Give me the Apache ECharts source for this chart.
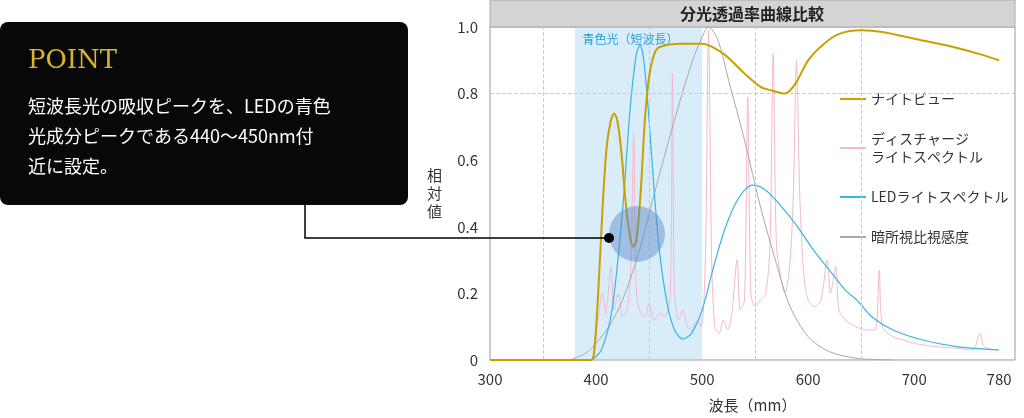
<!DOCTYPE html>
<html><head><meta charset="utf-8">
<script src="https://cdn.jsdelivr.net/npm/echarts@6/dist/echarts.min.js"></script>
<style>html,body{margin:0;padding:0;background:#fff}#c{width:1024px;height:418px}</style>
</head><body><div id="c"></div>
<script>
// ナイトビュー transmission
const nightView = [[300,0],[395,0],[398,0.02],[402,0.2],[406,0.45],[410,0.64],[414,0.72],[417,0.74],[420,0.72],[424,0.62],[428,0.47],[432,0.37],[435,0.34],[438,0.36],[442,0.5],[446,0.72],[450,0.85],[455,0.92],[460,0.94],[480,0.95],[500,0.95],[520,0.92],[540,0.86],[555,0.82],[565,0.81],[578,0.8],[588,0.83],[600,0.9],[615,0.95],[630,0.98],[650,0.99],[670,0.985],[700,0.965],[730,0.945],[760,0.92],[780,0.9]];
// ディスチャージライトスペクトル
const discharge = [[398,0],[402,0.12],[406,0.2],[409,0.14],[414,0.28],[417,0.15],[421,0.2],[425,0.13],[430,0.16],[433,0.3],[435.5,0.68],[438,0.2],[442,0.14],[446,0.13],[450,0.17],[455,0.12],[460,0.14],[465,0.13],[470,0.2],[472,0.86],[474,0.2],[478,0.12],[482,0.15],[486,0.1],[490,0.09],[495,0.12],[499,0.1],[503,0.3],[506,0.99],[509,0.3],[512,0.1],[516,0.08],[520,0.12],[524,0.09],[528,0.14],[533,0.3],[536,0.15],[540,0.18],[543,0.79],[546,0.2],[550,0.16],[555,0.18],[560,0.2],[564,0.35],[567,0.92],[570,0.35],[574,0.25],[578,0.2],[583,0.3],[586,0.5],[589,0.9],[592,0.5],[596,0.25],[600,0.18],[606,0.16],[612,0.18],[618,0.3],[621,0.2],[626,0.28],[629,0.15],[635,0.12],[645,0.1],[655,0.09],[663,0.09],[667,0.27],[670,0.1],[680,0.07],[690,0.06],[700,0.05],[720,0.04],[740,0.035],[755,0.03],[762,0.08],[766,0.04],[780,0.03]];
// LEDライトスペクトル
const led = [[396,0],[405,0.03],[415,0.15],[425,0.45],[432,0.75],[438,0.92],[441.5,0.945],[445,0.9],[450,0.72],[455,0.5],[460,0.32],[467,0.17],[474,0.09],[482,0.063],[490,0.08],[500,0.15],[510,0.27],[520,0.38],[530,0.46],[540,0.51],[548,0.525],[560,0.51],[575,0.46],[590,0.4],[605,0.33],[620,0.27],[635,0.21],[646,0.18],[660,0.13],[680,0.09],[708,0.06],[740,0.04],[780,0.03]];
// 暗所視比視感度
const scotopic = [[375,0],[390,0.02],[400,0.05],[412,0.1],[425,0.18],[440,0.32],[455,0.5],[473,0.71],[490,0.89],[500,0.97],[506,1.0],[515,0.96],[525,0.84],[540,0.66],[555,0.46],[570,0.29],[583,0.16],[600,0.07],[620,0.025],[646,0.005],[680,0]];
const baseline = [[300,0],[396,0]];
const xTicks = [300,400,500,600,700,780];
const yTicks = [0,0.2,0.4,0.6,0.8,1.0];

const chart = echarts.init(document.getElementById('c'));
const font = 'Noto Sans CJK JP';
const ln = (name, data, color, w, z) => ({name, type:'line', data, symbol:'none', smooth:0.3, z, lineStyle:{color, width:w}, itemStyle:{color}});

chart.setOption({
  animation:false,
  textStyle:{fontFamily:font},
  grid:{left:490, right:9, top:27, bottom:57, show:true, borderColor:'#999', borderWidth:1},
  xAxis:{type:'value', min:300, max:795,
    axisLine:{show:false}, axisTick:{show:false}, splitLine:{show:false},
    axisLabel:{customValues:xTicks, color:'#333', fontSize:15, margin:12},
    name:'波長（mm）', nameLocation:'middle', nameGap:38, nameTextStyle:{fontSize:15, color:'#333'}},
  yAxis:{type:'value', min:0, max:1.0, interval:0.2, axisLine:{show:false}, axisTick:{show:false},
    splitLine:{show:false},
    axisLabel:{color:'#333', fontSize:15, margin:12, formatter:v=>v===0?'0':v.toFixed(1)},
    name:'相\n対\n値', nameLocation:'middle', nameGap:48, nameRotate:0, nameTextStyle:{fontSize:15, color:'#333', lineHeight:18}},
  legend:{orient:'vertical', left:835, top:85, itemGap:22, itemWidth:26, itemHeight:2,
    icon:'rect', textStyle:{fontSize:14, color:'#333', lineHeight:18},
    data:['ナイトビュー','ディスチャージ\nライトスペクトル','LEDライトスペクトル','暗所視比視感度']},
  series:[
    {type:'line', data:[], silent:true,
      markArea:{silent:true, itemStyle:{color:'rgba(170,215,240,0.45)'},
        label:{show:true, position:'insideTop', distance:6, color:'#2a9fd8', fontSize:12, offset:[-8,0]},
        data:[[{xAxis:380, name:'青色光（短波長）'},{xAxis:500}]]},
      markLine:{silent:true, symbol:'none', label:{show:false}, lineStyle:{color:'#ccc', type:'dashed', width:1},
        data:[{xAxis:350},{xAxis:450},{xAxis:550},{xAxis:650},{yAxis:0.8}]}},
    ln('ディスチャージ\nライトスペクトル', discharge, '#f3b8cc', 1, 2),
    ln('暗所視比視感度', scotopic, '#a8a8a8', 1, 3),
    ln('LEDライトスペクトル', led, '#38b4e6', 1.2, 4),
    {type:'line', data:baseline, symbol:'none', lineStyle:{color:'#4caf50', width:1.5}, z:4},
    ln('ナイトビュー', nightView, '#c9a000', 2, 5)
  ],
  graphic:[
    {type:'rect', shape:{x:490, y:0, width:525, height:27}, style:{fill:'#d4d4d4', stroke:'#aaa'}},
    {type:'text', x:752, y:14, style:{text:'分光透過率曲線比較', fontSize:16, fontWeight:'bold', fill:'#222', align:'center', verticalAlign:'middle', fontFamily:font}},
    {type:'circle', shape:{cx:637, cy:234, r:28}, style:{fill:'rgba(90,130,200,0.45)'}, z:10},
    {type:'polyline', shape:{points:[[305,205],[305,238],[609,238]]}, style:{stroke:'#000', lineWidth:1.5, fill:null}, z:11},
    {type:'circle', shape:{cx:609, cy:238, r:5}, style:{fill:'#000'}, z:11},
    {type:'rect', shape:{x:0, y:22, width:408, height:183, r:8}, style:{fill:'#080808'}, z:11},
    {type:'text', x:28, y:48, style:{text:'POINT', fontSize:26, fontFamily:'DejaVu Serif', fill:'#d9b42a'}, z:12},
    {type:'text', x:28, y:91, style:{text:'短波長光の吸収ピークを、LEDの青色\n光成分ピークである440〜450nm付\n近に設定。', fontSize:18, lineHeight:30, fill:'#fff', fontFamily:font}, z:12}
  ]
});
</script></body></html>
